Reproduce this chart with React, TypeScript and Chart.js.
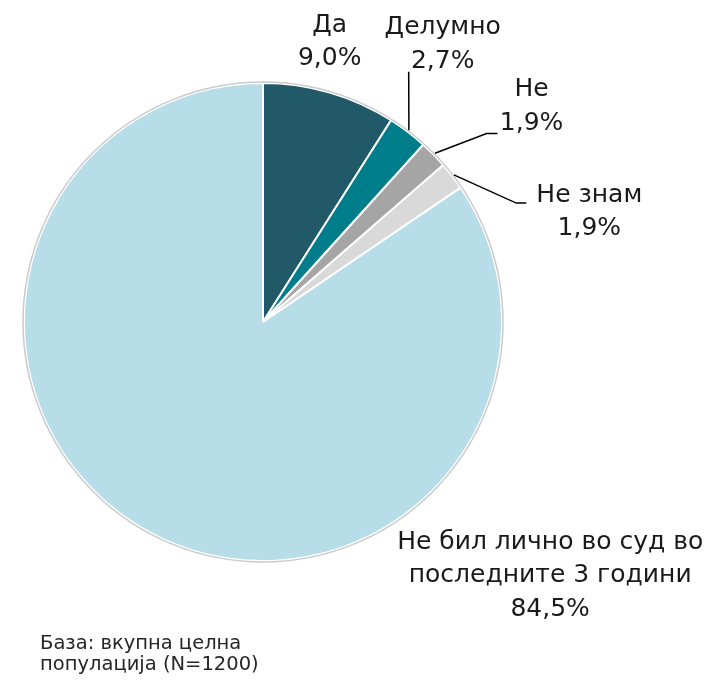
import React, { useEffect, useRef } from "react";
import { Chart, registerables } from "chart.js";

Chart.register(...registerables);

const categories = ["Да", "Делумно", "Не", "Не знам", "Не бил лично во суд во последните 3 години"];
const labelLines = [["Да"], ["Делумно"], ["Не"], ["Не знам"], ["Не бил лично во суд во", "последните 3 години"]];
const values = [9.0, 2.7, 1.9, 1.9, 84.5];
const colors = ["#215968", "#007D8B", "#A5A5A5", "#D9D9D9", "#B7DDE8"];
const footnote = ["База: вкупна целна", "популација (N=1200)"];

const FONT = "'DejaVu Sans', sans-serif";

// label placement relative to each slice's outer edge point (style only)
const labelStyle = [
  { dx: 0, dy: -67, leader: null },
  { dx: 35, dy: -104, leader: [[1, -60]] },
  { dx: 98, dy: -65, leader: [[53, -21], [64, -21]] },
  { dx: 137, dy: 19, leader: [[64, 27], [74, 27]] },
  { dx: 399, dy: 9, leader: null },
];

const fmt = (v: number) => v.toFixed(1).replace(".", ",") + "%";

const labelPlugin = {
  id: "pieLabels",
  afterDraw(chart: any) {
    const ctx = chart.ctx;
    const meta = chart.getDatasetMeta(0);
    const first = meta.data[0];
    ctx.save();
    // faint outline round the pie
    ctx.beginPath();
    ctx.arc(first.x, first.y, first.outerRadius + 1, 0, Math.PI * 2);
    ctx.strokeStyle = "rgba(180,180,180,0.7)";
    ctx.lineWidth = 1.5;
    ctx.stroke();

    ctx.font = `25px ${FONT}`;
    ctx.fillStyle = "#1a1a1a";
    ctx.textAlign = "center";
    ctx.textBaseline = "middle";
    meta.data.forEach((arc: any, i: number) => {
      const mid = (arc.startAngle + arc.endAngle) / 2;
      const px = arc.x + Math.cos(mid) * arc.outerRadius;
      const py = arc.y + Math.sin(mid) * arc.outerRadius;
      const st = labelStyle[i];
      if (st.leader) {
        ctx.beginPath();
        ctx.moveTo(px + Math.cos(mid) * 2, py + Math.sin(mid) * 2);
        st.leader.forEach((pt: number[]) => ctx.lineTo(px + pt[0], py + pt[1]));
        ctx.strokeStyle = "#000";
        ctx.lineWidth = 1.5;
        ctx.stroke();
      }
      const lines = [...labelLines[i], fmt(values[i])];
      lines.forEach((t, k) => {
        ctx.fillText(t, px + st.dx, py + st.dy + k * 33.5);
      });
    });

    ctx.font = `19.5px ${FONT}`;
    ctx.textAlign = "left";
    ctx.fillStyle = "#262626";
    footnote.forEach((t, k) => ctx.fillText(t, 40, 644 + k * 21));
    ctx.restore();
  },
};

export default function App() {
  const ref = useRef<HTMLCanvasElement>(null);
  useEffect(() => {
    document.body.style.margin = "0";
    const chart = new Chart(ref.current!, {
      type: "pie",
      data: {
        labels: categories,
        datasets: [
          {
            data: values,
            backgroundColor: colors,
            borderColor: "#ffffff",
            borderWidth: 2,
          },
        ],
      },
      options: {
        animation: false,
        responsive: false,
        rotation: 0,
        layout: { padding: { left: 23, top: 82, right: 212, bottom: 118 } },
        plugins: { legend: { display: false }, tooltip: { enabled: false } },
      },
      plugins: [labelPlugin],
    });
    return () => chart.destroy();
  }, []);
  return (
    <div style={{ width: 715, height: 680, background: "#fff" }}>
      <canvas ref={ref} width={715} height={680} style={{ display: "block" }} />
    </div>
  );
}
